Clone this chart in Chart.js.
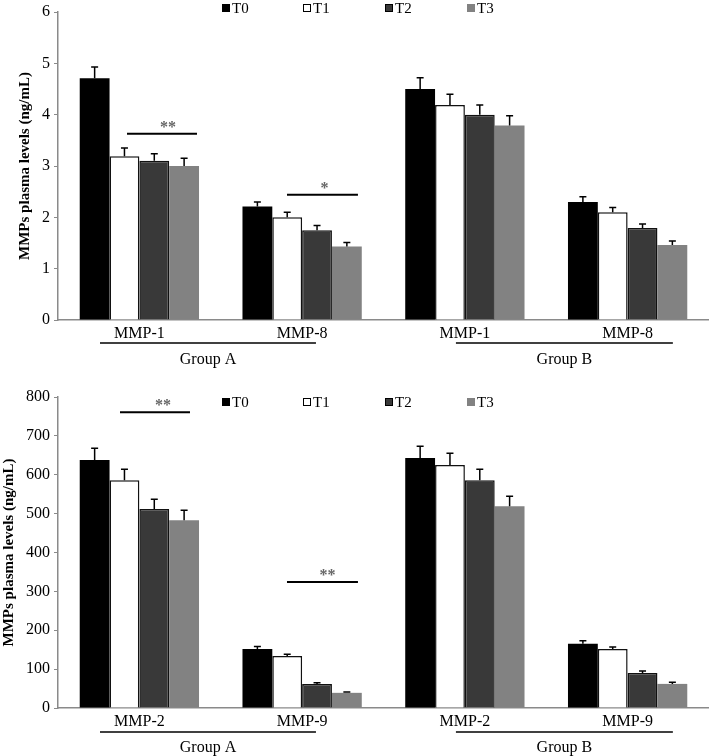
<!DOCTYPE html>
<html>
<head>
<meta charset="utf-8">
<script src="https://cdn.jsdelivr.net/npm/chart.js@4"></script>
<style>
  body { margin: 0; background: #fff; }
  canvas { display: block; }
</style>
</head>
<body>
<canvas id="chartTop" width="709" height="370"></canvas>
<canvas id="chartBottom" width="709" height="386"></canvas>
<script>
// data
const seriesNames = ['T0', 'T1', 'T2', 'T3'];
const groupNames = ['Group A', 'Group B'];

const topCategories = ['MMP-1', 'MMP-8', 'MMP-1', 'MMP-8'];
const topT0 = [4.71, 2.21, 4.50, 2.30];
const topT1 = [3.19, 2.00, 4.19, 2.10];
const topT2 = [3.10, 1.75, 4.00, 1.79];
const topT3 = [3.00, 1.43, 3.79, 1.46];
const topErrT0 = [0.22, 0.09, 0.22, 0.10];
const topErrT1 = [0.16, 0.10, 0.21, 0.09];
const topErrT2 = [0.14, 0.09, 0.19, 0.08];
const topErrT3 = [0.15, 0.08, 0.19, 0.08];

const bottomCategories = ['MMP-2', 'MMP-9', 'MMP-2', 'MMP-9'];
const bottomT0 = [638, 152, 643, 165];
const bottomT1 = [586, 134, 625, 152];
const bottomT2 = [512, 62, 586, 90];
const bottomT3 = [483, 39, 519, 62];
const bottomErrT0 = [30, 6, 30, 8];
const bottomErrT1 = [28, 4, 30, 5];
const bottomErrT2 = [25, 3, 28, 5];
const bottomErrT3 = [26, 2, 26, 4];

const yTitle = 'MMPs plasma levels (ng/mL)';

Chart.defaults.font.family = '"Liberation Serif", "Times New Roman", serif';
Chart.defaults.color = '#000';

const barStyles = [
    { backgroundColor: '#000000', borderColor: '#000000', borderWidth: 0 },
    { backgroundColor: '#ffffff', borderColor: '#111111', borderWidth: 1.5 },
    { backgroundColor: '#393939', borderColor: '#111111', borderWidth: 1.5 },
    { backgroundColor: '#828282', borderColor: '#828282', borderWidth: 0 }
];

function makeDatasets(values, errors) {
    return seriesNames.map((name, i) => Object.assign({
        label: name,
        data: values[i],
        errors: errors[i],
        borderSkipped: 'bottom',
        categoryPercentage: 0.733,
        barPercentage: 1.0
    }, barStyles[i]));
}

// upward error bars with a small cap
const errorBars = {
    id: 'errorBars',
    afterDatasetsDraw(chart) {
        const ctx = chart.ctx;
        const y = chart.scales.y;
        chart.data.datasets.forEach((ds, i) => {
            chart.getDatasetMeta(i).data.forEach((bar, j) => {
                const top = y.getPixelForValue(ds.data[j] + ds.errors[j]);
                ctx.save();
                ctx.strokeStyle = '#000';
                ctx.lineWidth = 1.5;
                ctx.beginPath();
                ctx.moveTo(bar.x, bar.y);
                ctx.lineTo(bar.x, top);
                ctx.moveTo(bar.x - 3.5, top);
                ctx.lineTo(bar.x + 3.5, top);
                ctx.stroke();
                ctx.restore();
            });
        });
    }
};

// significance bars, legend and group brackets
const extras = {
    id: 'extras',
    afterDraw(chart, args, opts) {
        const ctx = chart.ctx;
        const x = chart.scales.x;
        const y = chart.scales.y;
        const area = chart.chartArea;
        ctx.save();

        (opts.marks || []).forEach(m => {
            const x1 = x.getPixelForValue(m.from);
            const x2 = x.getPixelForValue(m.to);
            const yy = y.getPixelForValue(m.y);
            ctx.strokeStyle = '#000';
            ctx.lineWidth = 2;
            ctx.beginPath();
            ctx.moveTo(x1, yy);
            ctx.lineTo(x2, yy);
            ctx.stroke();
            ctx.fillStyle = '#666';
            ctx.font = 'bold 16px "Liberation Serif"';
            ctx.textAlign = 'center';
            ctx.textBaseline = 'middle';
            ctx.fillText(m.text, (x1 + x2) / 2 + m.dx, yy - 6);
        });

        (opts.groups || []).forEach((g, i) => {
            const x1 = x.getPixelForValue(g.from);
            const x2 = x.getPixelForValue(g.to);
            const yy = area.bottom + opts.groupLine;
            ctx.strokeStyle = '#000';
            ctx.lineWidth = 1.5;
            ctx.beginPath();
            ctx.moveTo(x1, yy);
            ctx.lineTo(x2, yy);
            ctx.stroke();
            ctx.fillStyle = '#000';
            ctx.font = '16px "Liberation Serif"';
            ctx.textAlign = 'center';
            ctx.textBaseline = 'middle';
            ctx.fillText(groupNames[i], (x1 + x2) / 2, area.bottom + opts.groupText);
        });

        chart.data.datasets.forEach((ds, i) => {
            const lx = opts.legendX[i];
            const ly = opts.legendY;
            ctx.fillStyle = ds.backgroundColor;
            ctx.fillRect(lx, ly - 4, 8, 8);
            ctx.strokeStyle = i === 3 ? ds.backgroundColor : '#000';
            ctx.lineWidth = 1;
            ctx.strokeRect(lx + 0.5, ly - 3.5, 7, 7);
            ctx.fillStyle = '#000';
            ctx.font = '15px "Liberation Serif"';
            ctx.textAlign = 'left';
            ctx.textBaseline = 'middle';
            ctx.fillText(ds.label, lx + 10, ly + 1);
        });
        ctx.restore();
    }
};

function makeChart(id, categories, datasets, yMax, yStep, padTop, xHeight, titlePad, extraOpts) {
    return new Chart(document.getElementById(id), {
        type: 'bar',
        data: { labels: categories, datasets: datasets },
        options: {
            responsive: false,
            animation: false,
            layout: { padding: { top: padTop, left: 0, right: 0, bottom: 0 } },
            plugins: {
                legend: { display: false },
                tooltip: { enabled: false },
                extras: extraOpts
            },
            scales: {
                x: {
                    grid: { display: false, drawTicks: false },
                    border: { display: true, color: '#8a8a8a', width: 1.5 },
                    ticks: { font: { size: 16 }, color: '#000', padding: 4, maxRotation: 0 },
                    afterFit: s => { s.height = xHeight; }
                },
                y: {
                    min: 0,
                    max: yMax,
                    ticks: { stepSize: yStep, font: { size: 16, lineHeight: 1 }, color: '#000', padding: 4 },
                    grid: { drawOnChartArea: false, drawTicks: true, tickLength: 4, color: '#8a8a8a' },
                    border: { display: true, color: '#8a8a8a', width: 1.5 },
                    title: {
                        display: true,
                        text: yTitle,
                        font: { size: 15, weight: 'bold' },
                        color: '#000',
                        padding: { top: titlePad, bottom: 0 }
                    },
                    afterFit: s => { s.width = 58; }
                }
            }
        },
        plugins: [errorBars, extras]
    });
}

makeChart('chartTop', topCategories,
    makeDatasets([topT0, topT1, topT2, topT3], [topErrT0, topErrT1, topErrT2, topErrT3]),
    6, 1, 8, 50, 16,
    {
        marks: [
            { from: -0.076, to: 0.354, y: 3.63, text: '**', dx: 6 },
            { from: 0.907, to: 1.343, y: 2.44, text: '*', dx: 2 }
        ],
        groups: [ { from: -0.242, to: 1.085 }, { from: 1.945, to: 3.278 } ],
        groupLine: 23,
        groupText: 40,
        legendX: [222, 303, 385, 467],
        legendY: 8
    });

makeChart('chartBottom', bottomCategories,
    makeDatasets([bottomT0, bottomT1, bottomT2, bottomT3], [bottomErrT0, bottomErrT1, bottomErrT2, bottomErrT3]),
    800, 100, 27, 48, 0,
    {
        marks: [
            { from: -0.119, to: 0.311, y: 761, text: '**', dx: 8 },
            { from: 0.907, to: 1.343, y: 324, text: '**', dx: 5 }
        ],
        groups: [ { from: -0.242, to: 1.085 }, { from: 1.945, to: 3.278 } ],
        groupLine: 24,
        groupText: 40,
        legendX: [222, 303, 385, 467],
        legendY: 32
    });
</script>
</body>
</html>
